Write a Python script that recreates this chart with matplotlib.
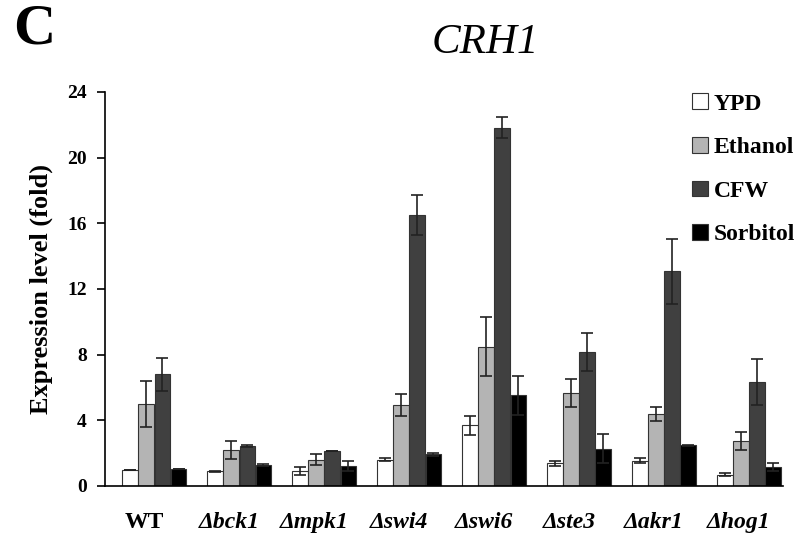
import matplotlib.pyplot as plt
import numpy as np

# strains and conditions
strains = ["WT", "Δbck1", "Δmpk1", "Δswi4", "Δswi6", "Δste3", "Δakr1", "Δhog1"]
conditions = ["YPD", "Ethanol", "CFW", "Sorbitol"]
colors = ["white", "#b4b4b4", "#404040", "black"]

# mean expression (fold) per condition
ypd = [0.97, 0.91, 0.91, 1.6, 3.7, 1.38, 1.54, 0.69]
ethanol = [5.0, 2.19, 1.6, 4.93, 8.48, 5.68, 4.38, 2.74]
cfw = [6.8, 2.45, 2.13, 16.5, 21.82, 8.16, 13.07, 6.35]
sorbitol = [1.05, 1.28, 1.24, 1.93, 5.52, 2.27, 2.48, 1.14]

# error bars (sd)
ypd_err = [0.0, 0.03, 0.23, 0.1, 0.57, 0.16, 0.15, 0.1]
ethanol_err = [1.4, 0.55, 0.33, 0.65, 1.8, 0.85, 0.41, 0.53]
cfw_err = [1.0, 0.05, 0.0, 1.2, 0.63, 1.14, 1.97, 1.4]
sorbitol_err = [0.0, 0.05, 0.3, 0.1, 1.2, 0.88, 0.03, 0.24]

values = [ypd, ethanol, cfw, sorbitol]
errors = [ypd_err, ethanol_err, cfw_err, sorbitol_err]

plt.rcParams['font.family'] = ['Liberation Serif', 'DejaVu Serif']

fig = plt.figure(figsize=(8.08, 5.4), dpi=100)
ax = fig.add_axes([0.13, 0.1, 0.839, 0.73])

x = np.arange(len(strains))
w = 0.19
for i, (vals, errs) in enumerate(zip(values, errors)):
    pos = x + (i - 1.5) * w
    ax.bar(pos, vals, width=w * 0.97, color=colors[i], edgecolor="#333333",
           linewidth=0.8, label=conditions[i], zorder=2)
    ax.errorbar(pos, vals, yerr=errs, fmt="none", ecolor="#222222",
                elinewidth=1.2, capsize=4, capthick=1.2, zorder=3)

ax.set_xlim(-0.58, len(strains) - 0.6)
ax.set_ylim(0, 24)
ax.set_yticks([0, 4, 8, 12, 16, 20, 24])
ax.set_yticklabels(["0", "4", "8", "12", "16", "20", "24"], fontsize=14, fontweight="bold")
# labels sit a little left of the bar groups in the original (no tick marks drawn)
ax.set_xticks(x - 0.12)
ax.set_xticklabels(strains, fontsize=17, fontweight="bold")
for lab in ax.get_xticklabels()[1:]:
    lab.set_style("italic")
ax.tick_params(axis="x", length=0, pad=19)
ax.tick_params(axis="y", direction="out", length=6, width=1.2, pad=7)

ax.spines["top"].set_visible(False)
ax.spines["right"].set_visible(False)
ax.spines["left"].set_linewidth(1.2)
ax.spines["bottom"].set_linewidth(1.2)

ax.set_ylabel("Expression level (fold)", fontsize=19, fontweight="bold", labelpad=10)

fig.text(0.6, 0.92, "CRH1", fontsize=31, style="italic", ha="center", va="center")
fig.text(0.016, 0.946, "C", fontsize=42, fontweight="bold", ha="left", va="center")

leg = ax.legend(loc="upper left", bbox_to_anchor=(0.835, 1.05), frameon=False,
                prop={"size": 17, "weight": "bold"}, handlelength=0.65,
                handleheight=0.65, handletextpad=0.25, labelspacing=0.95)

plt.savefig("out.png", dpi=100)
